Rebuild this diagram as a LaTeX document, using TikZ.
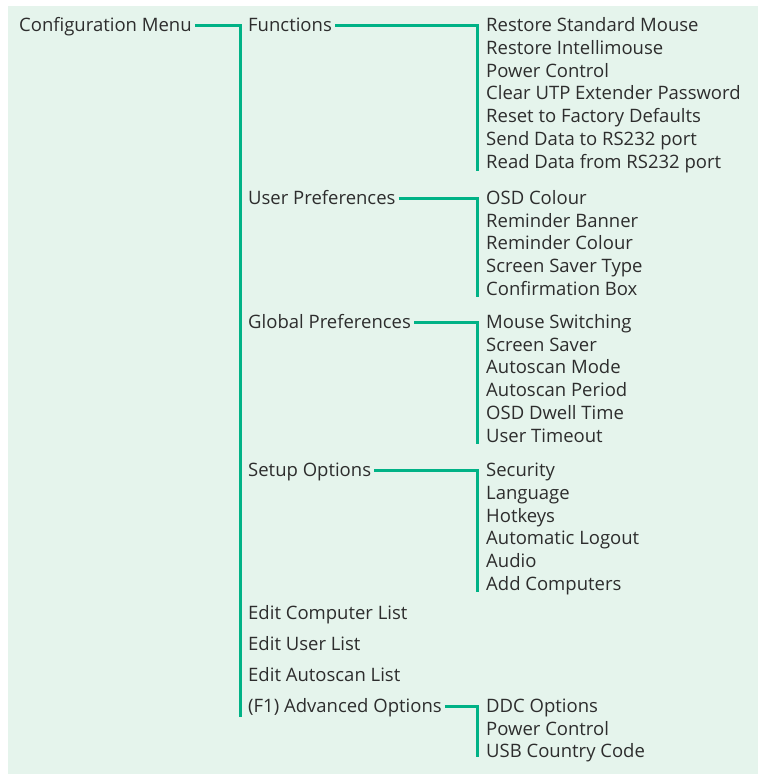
\documentclass[tikz,border=0pt]{standalone}
\usepackage{fontspec}
\setmainfont{Open Sans}
\usetikzlibrary{calc}
\definecolor{menugreen}{RGB}{0, 178, 134}
\definecolor{menubg}{RGB}{229, 244, 236}
\definecolor{menutext}{RGB}{45, 45, 45}

\begin{document}
\begin{tikzpicture}[x=1pt, y=-1pt,
  item/.style={anchor=west, inner sep=0pt, text height=13pt, text depth=0pt,
    text=menutext, font=\fontsize{18.5}{22}\selectfont},
  branch/.style={menugreen, line width=3pt}]
  \useasboundingbox (0,0) rectangle (758,774);
  \fill[menubg] (8,6) rectangle (758,774);
  % top level
  \node[item] (menu) at (19,25) {Configuration Menu};
  \node[item] (fun) at (248,25) {Functions};
  \node[item] (user) at (248,198) {User Preferences};
  \node[item] (glob) at (248,322) {Global Preferences};
  \node[item] (setup) at (248,470) {Setup Options};
  \node[item] (comp) at (248,613) {Edit Computer List};
  \node[item] (ulist) at (248,644) {Edit User List};
  \node[item] (alist) at (248,675) {Edit Autoscan List};
  \node[item] (adv) at (248,706) {(F1) Advanced Options};
  % functions
  \node[item] (f1) at (486,25) {Restore Standard Mouse};
  \node[item] (f2) at (486,47.8) {Restore Intellimouse};
  \node[item] (f3) at (486,70.6) {Power Control};
  \node[item] (f4) at (486,93.4) {Clear UTP Extender Password};
  \node[item] (f5) at (486,116.2) {Reset to Factory Defaults};
  \node[item] (f6) at (486,139) {Send Data to RS232 port};
  \node[item] (f7) at (486,161.8) {Read Data from RS232 port};
  % user preferences
  \node[item] (u1) at (486,198) {OSD Colour};
  \node[item] (u2) at (486,220.7) {Reminder Banner};
  \node[item] (u3) at (486,243.4) {Reminder Colour};
  \node[item] (u4) at (486,266.1) {Screen Saver Type};
  \node[item] (u5) at (486,288.8) {Confirmation Box};
  % global preferences
  \node[item] (g1) at (486,322) {Mouse Switching};
  \node[item] (g2) at (486,344.7) {Screen Saver};
  \node[item] (g3) at (486,367.4) {Autoscan Mode};
  \node[item] (g4) at (486,390.1) {Autoscan Period};
  \node[item] (g5) at (486,412.8) {OSD Dwell Time};
  \node[item] (g6) at (486,435.5) {User Timeout};
  % setup options
  \node[item] (s1) at (486,470) {Security};
  \node[item] (s2) at (486,492.8) {Language};
  \node[item] (s3) at (486,515.6) {Hotkeys};
  \node[item] (s4) at (486,538.4) {Automatic Logout};
  \node[item] (s5) at (486,561.2) {Audio};
  \node[item] (s6) at (486,584) {Add Computers};
  % advanced options
  \node[item] (a1) at (486,706) {DDC Options};
  \node[item] (a2) at (486,728.7) {Power Control};
  \node[item] (a3) at (486,751.4) {USB Country Code};
  % branches
  \draw[branch] ([xshift=3pt]menu.east) -| ($(adv.west)+(-8,11)$);
  \draw[branch] ([xshift=3pt]fun.east) -| ($(f7.west)+(-9,9)$);
  \draw[branch] ([xshift=3pt]user.east) -| ($(u5.west)+(-9,8)$);
  \draw[branch] ([xshift=3pt]glob.east) -| ($(g6.west)+(-9,8)$);
  \draw[branch] ([xshift=3pt]setup.east) -| ($(s6.west)+(-9,8)$);
  \draw[branch] ([xshift=3pt]adv.east) -| ($(a3.west)+(-9,6)$);
\end{tikzpicture}
\end{document}
